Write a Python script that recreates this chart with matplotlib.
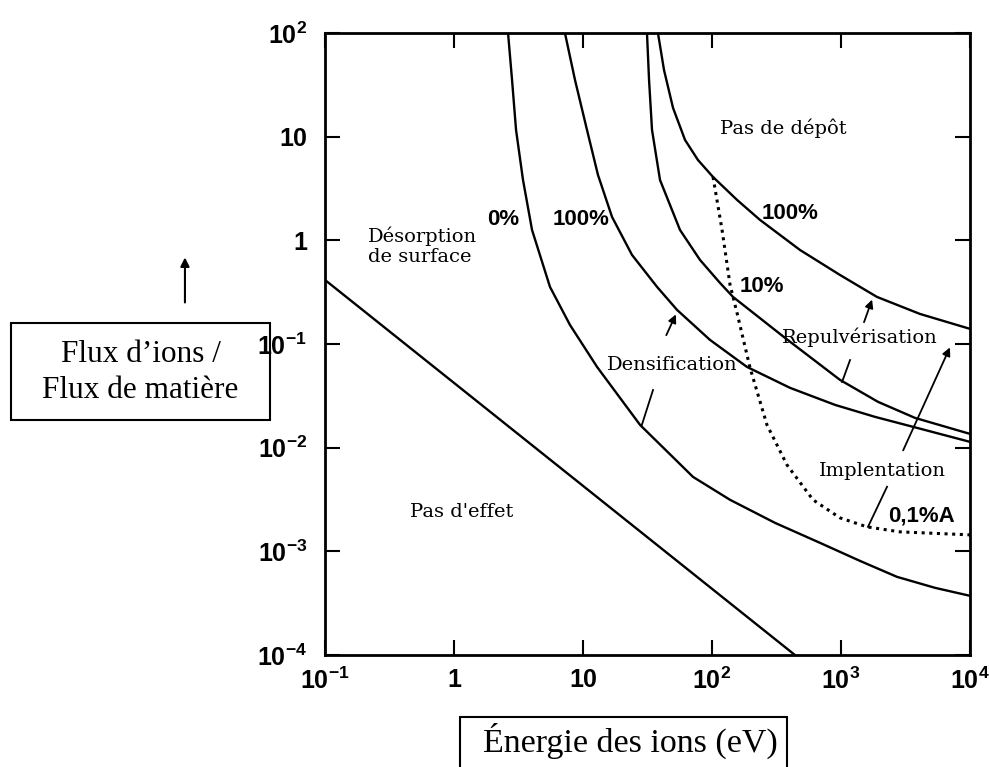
import numpy as np
import matplotlib
matplotlib.use("Agg")
from matplotlib import pyplot as plt
from matplotlib.patches import Rectangle

#%% valeurs, en log10 (energie en eV, rapport de flux)
# limite "pas d'effet"
lgE_lim = [-1.0, 2.643]
lgF_lim = [-0.382, -4.0]

# courbe 0% (densification, bas)
lgE_0 = [0.419, 0.450, 0.481, 0.535, 0.605, 0.744, 0.899, 1.109, 1.442, 1.853,
         2.140, 2.488, 2.837, 3.147, 3.434, 3.729, 4.0]
lgF_0 = [2.0, 1.547, 1.065, 0.582, 0.100, -0.449, -0.816, -1.221, -1.780, -2.282,
         -2.503, -2.725, -2.918, -3.092, -3.246, -3.352, -3.429]

# courbe 100% (densification, haut)
lgE_100 = [0.860, 0.938, 1.031, 1.116, 1.225, 1.380, 1.574, 1.729, 1.984,
           2.271, 2.605, 2.953, 3.264, 3.589, 4.0]
lgF_100 = [2.0, 1.547, 1.065, 0.631, 0.226, -0.141, -0.449, -0.671, -0.960,
           -1.221, -1.423, -1.587, -1.703, -1.809, -1.944]

# courbe repulverisation (bas)
lgE_rep = [1.496, 1.512, 1.535, 1.597, 1.752, 1.907, 2.062, 2.163, 2.566,
           2.992, 3.287, 3.574, 4.0]
lgF_rep = [2.0, 1.547, 1.065, 0.582, 0.100, -0.189, -0.411, -0.546, -0.941,
           -1.346, -1.558, -1.713, -1.867]

# courbe 100% (pas de depot)
lgE_dep = [1.581, 1.628, 1.698, 1.791, 1.891, 2.008, 2.194, 2.372, 2.682,
           2.992, 3.279, 3.612, 4.0]
lgF_dep = [2.0, 1.643, 1.277, 0.968, 0.775, 0.611, 0.390, 0.197, -0.093,
           -0.334, -0.546, -0.710, -0.854]

# courbe pointillee 0,1%A
lgE_imp = [2.008, 2.078, 2.140, 2.194, 2.295, 2.426, 2.581, 2.783, 2.992,
           3.202, 3.457, 4.0]
lgF_imp = [0.611, 0.100, -0.430, -0.700, -1.230, -1.780, -2.166, -2.503, -2.677,
           -2.764, -2.812, -2.841]

xticks = [0.1, 1, 10, 100, 1000, 10000]
xlabels = [r"$10^{-1}$", "1", "10", r"$10^{2}$", r"$10^{3}$", r"$10^{4}$"]
yticks = [1e-4, 1e-3, 1e-2, 1e-1, 1, 10, 100]
ylabels = [r"$10^{-4}$", r"$10^{-3}$", r"$10^{-2}$", r"$10^{-1}$", "1", "10", r"$10^{2}$"]

#%% figure
plt.rcParams["mathtext.fontset"] = "custom"
plt.rcParams["mathtext.rm"] = "Liberation Sans:bold"
plt.rcParams["mathtext.it"] = "Liberation Sans:bold"
plt.rcParams["mathtext.bf"] = "Liberation Sans:bold"
plt.rcParams["mathtext.sf"] = "Liberation Sans:bold"

fig = plt.figure(figsize=(9.89, 7.67), dpi=100)
ax = fig.add_axes([0.3286, 0.146, 0.6522, 0.811])
ax.set_xscale("log")
ax.set_yscale("log")
ax.set_xlim(0.1, 1e4)
ax.set_ylim(1e-4, 1e2)

lw = 1.7
p = lambda v: 10 ** np.array(v)
ax.plot(p(lgE_lim), p(lgF_lim), color="k", lw=lw)
ax.plot(p(lgE_0), p(lgF_0), color="k", lw=lw)
ax.plot(p(lgE_100), p(lgF_100), color="k", lw=lw)
ax.plot(p(lgE_rep), p(lgF_rep), color="k", lw=lw)
ax.plot(p(lgE_dep), p(lgF_dep), color="k", lw=lw)
ax.plot(p(lgE_imp), p(lgF_imp), color="k", lw=2.2, ls=(0, (1, 1.5)))

tickfont = dict(family="Liberation Sans", weight="bold", size=18)
ax.set_xticks(xticks)
ax.set_xticklabels(xlabels, **tickfont)
ax.set_yticks(yticks)
ax.set_yticklabels(ylabels, **tickfont)
ax.minorticks_off()
ax.tick_params(which="major", direction="in", length=11, width=1.5,
               top=True, right=True, colors="k")
ax.tick_params(axis="x", pad=9)
ax.tick_params(axis="y", pad=13)
for s in ax.spines.values():
    s.set_linewidth(2)

#%% textes
serif = "DejaVu Serif"
ax.text(355, 12, "Pas de dépôt", family=serif, fontsize=14, ha="center", va="center")
ax.text(0.215, 0.88, "Désorption\nde surface", family=serif, fontsize=14,
        ha="left", va="center", linespacing=1.1)
ax.text(49, 0.063, "Densification", family=serif, fontsize=14, ha="center", va="center")
ax.text(1400, 0.115, "Repulvérisation", family=serif, fontsize=14, ha="center", va="center")
ax.text(2080, 0.006, "Implentation", family=serif, fontsize=14, ha="center", va="center")
ax.text(1.15, 0.0024, "Pas d'effet", family=serif, fontsize=14, ha="center", va="center")

pct = dict(family="Liberation Sans", weight="bold", fontsize=16, va="center")
ax.text(2.4, 1.6, "0%", ha="center", **pct)
ax.text(9.7, 1.6, "100%", ha="center", **pct)
ax.text(405, 1.8, "100%", ha="center", **pct)
ax.text(165, 0.355, "10%", ha="left", **pct)
ax.text(2300, 0.0022, "0,1%A", ha="left", **pct)

# traits de repere
arr = dict(arrowstyle="-|>", color="k", lw=1.3, mutation_scale=12)
ax.annotate("", xy=(53.6, 0.204), xytext=(43.3, 0.115), arrowprops=arr)
ax.plot([34.9, 28.6], [0.036, 0.0166], color="k", lw=1.3)
ax.annotate("", xy=(1770, 0.284), xytext=(1483, 0.153), arrowprops=arr)
ax.plot([1175, 1019], [0.070, 0.043], color="k", lw=1.3)
ax.annotate("", xy=(7130, 0.098), xytext=(2970, 0.0089), arrowprops=arr)
ax.plot([1618, 2275], [0.00172, 0.0042], color="k", lw=1.3)

#%% etiquettes encadrees
fig.patches.append(Rectangle((0.011, 0.4524), 0.262, 0.1266, transform=fig.transFigure,
                             fill=False, ec="k", lw=1.5))
fig.text(0.142, 0.514, "Flux d\u2019ions /\nFlux de matière", family="Liberation Serif",
         fontsize=22.5, ha="center", va="center", linespacing=1.32)
fig.patches.append(Rectangle((0.465, -0.02), 0.331, 0.085, transform=fig.transFigure,
                             fill=False, ec="k", lw=1.5))
fig.text(0.637, 0.034, "Énergie des ions (eV)", family="Liberation Serif",
         fontsize=24.5, ha="center", va="center")
ax.annotate("", xy=(0.187, 0.668), xytext=(0.187, 0.602), xycoords="figure fraction",
            textcoords="figure fraction",
            arrowprops=dict(arrowstyle="-|>", color="k", lw=1.5, mutation_scale=13))

plt.savefig("out.png", dpi=100)
